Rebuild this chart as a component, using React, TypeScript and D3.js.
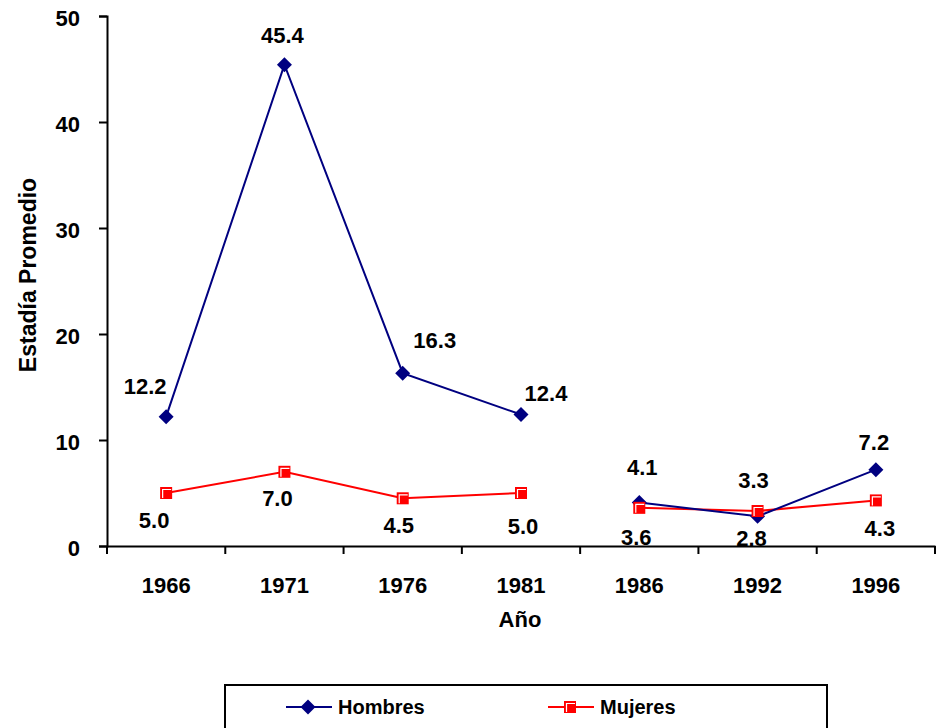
import { useRef, useEffect } from 'react'
import * as d3 from 'd3'

const YEARS = ['1966', '1971', '1976', '1981', '1986', '1992', '1996']
const HOMBRES = [12.2, 45.4, 16.3, 12.4, 4.1, 2.8, 7.2]
const MUJERES = [5.0, 7.0, 4.5, 5.0, 3.6, 3.3, 4.3]
// the series break between 1981 and 1986
const SEGMENTS = [0, 0, 0, 0, 1, 1, 1]
const Y_TICKS = [0, 10, 20, 30, 40, 50]

// label offsets (px) relative to each point
const HOMBRES_LABEL_OFFSET: [number, number][] = [
  [-21, -31], [-2, -30], [32, -33], [25, -21], [3, -35], [-6, 22], [-2, -28],
]
const MUJERES_LABEL_OFFSET: [number, number][] = [
  [-12, 27], [-7, 26], [-4, 27], [2, 33], [-3, 29], [-4, -31], [4, 28],
]

const W = 941
const H = 728
const FONT = '"Liberation Sans", Arial, sans-serif'
const NAVY = '#000080'
const RED = '#ff0000'

export default function App() {
  const ref = useRef<SVGSVGElement>(null)

  useEffect(() => {
    if (!ref.current) return
    const svg = d3.select(ref.current)
    svg.selectAll('*').remove()

    const x = d3.scaleBand<string>().domain(YEARS).range([107, 935])
    const y = d3.scaleLinear().domain([0, 50]).range([546, 16])
    const cx = (d: string) => (x(d) ?? 0) + x.bandwidth() / 2

    svg.append('rect').attr('width', W).attr('height', H).attr('fill', '#fff')

    // axes
    const yAxis = svg.append('g').attr('transform', 'translate(107,0)')
      .call(d3.axisLeft(y).tickValues(Y_TICKS).tickSize(8).tickPadding(19).tickFormat(d3.format('d')))
    const xAxis = svg.append('g').attr('transform', 'translate(0,546)')
      .call(d3.axisBottom(x).tickSize(0).tickPadding(31))
    for (const g of [yAxis, xAxis]) {
      g.select('.domain').attr('stroke', '#000').attr('stroke-width', 2)
      g.selectAll('.tick line').attr('stroke', '#000').attr('stroke-width', 2)
      g.selectAll('.tick text')
        .attr('fill', '#000')
        .style('font-family', FONT)
        .style('font-size', '22px')
        .style('font-weight', 'bold')
    }
    yAxis.selectAll('.tick text').attr('dy', '0.45em')
    // category boundary ticks
    const bounds = YEARS.map((d) => x(d) ?? 0).concat([(x(YEARS[YEARS.length - 1]) ?? 0) + x.bandwidth()])
    xAxis.selectAll('line.bound').data(bounds).enter().append('line')
      .attr('class', 'bound')
      .attr('x1', (d) => d).attr('x2', (d) => d)
      .attr('y1', 0).attr('y2', 8)
      .attr('stroke', '#000').attr('stroke-width', 2)

    // axis titles
    svg.append('text')
      .attr('transform', 'translate(36,275) rotate(-90)')
      .attr('text-anchor', 'middle')
      .style('font-family', FONT).style('font-size', '23px').style('font-weight', 'bold')
      .text('Estadía Promedio')
    svg.append('text')
      .attr('x', 520).attr('y', 627)
      .attr('text-anchor', 'middle')
      .style('font-family', FONT).style('font-size', '22px').style('font-weight', 'bold')
      .text('Año')

    const line = d3.line<[string, number]>().x((d) => cx(d[0])).y((d) => y(d[1]))

    const drawSeries = (values: number[], color: string) => {
      const groups = d3.groups(values.map((v, i) => [YEARS[i], v, SEGMENTS[i]] as [string, number, number]), (d) => d[2])
      groups.forEach(([, pts]) => {
        svg.append('path')
          .datum(pts.map((p) => [p[0], p[1]] as [string, number]))
          .attr('d', line)
          .attr('fill', 'none')
          .attr('stroke', color)
          .attr('stroke-width', 2)
      })
    }

    const diamond = (g: d3.Selection<SVGGElement, unknown, null, undefined>, px: number, py: number) => {
      g.append('path')
        .attr('d', `M${px},${py - 7.5}L${px + 7.5},${py}L${px},${py + 7.5}L${px - 7.5},${py}Z`)
        .attr('fill', NAVY)
    }
    const square = (g: d3.Selection<SVGGElement, unknown, null, undefined>, px: number, py: number) => {
      g.append('rect')
        .attr('x', px - 6).attr('y', py - 6).attr('width', 12).attr('height', 12)
        .attr('fill', RED)
      g.append('path')
        .attr('d', `M${px - 3.5},${py + 5}V${py - 3.5}H${px + 5}`)
        .attr('fill', 'none').attr('stroke', '#fff').attr('stroke-width', 1.2)
    }

    drawSeries(MUJERES, RED)
    drawSeries(HOMBRES, NAVY)

    const marks = svg.append('g')
    HOMBRES.forEach((v, i) => diamond(marks, cx(YEARS[i]), y(v)))
    MUJERES.forEach((v, i) => square(marks, cx(YEARS[i]), y(v)))

    const labels = svg.append('g')
      .style('font-family', FONT).style('font-size', '22px').style('font-weight', 'bold')
      .attr('text-anchor', 'middle')
    const addLabels = (values: number[], offs: [number, number][]) => {
      values.forEach((v, i) => {
        labels.append('text')
          .attr('x', cx(YEARS[i]) + offs[i][0])
          .attr('y', y(v) + offs[i][1])
          .attr('dy', '0.36em')
          .text(d3.format('.1f')(v))
      })
    }
    addLabels(HOMBRES, HOMBRES_LABEL_OFFSET)
    addLabels(MUJERES, MUJERES_LABEL_OFFSET)

    // legend
    const leg = svg.append('g')
    leg.append('rect')
      .attr('x', 225).attr('y', 685).attr('width', 602).attr('height', 60)
      .attr('fill', '#fff').attr('stroke', '#000').attr('stroke-width', 2)
    const items = [
      { name: 'Hombres', color: NAVY, x: 286, marker: diamond },
      { name: 'Mujeres', color: RED, x: 548, marker: square },
    ]
    items.forEach((it) => {
      leg.append('line')
        .attr('x1', it.x).attr('x2', it.x + 46)
        .attr('y1', 707).attr('y2', 707)
        .attr('stroke', it.color).attr('stroke-width', 2)
      it.marker(leg as any, it.x + 22, 707)
      leg.append('text')
        .attr('x', it.x + 52).attr('y', 714)
        .style('font-family', FONT).style('font-size', '20px').style('font-weight', 'bold')
        .text(it.name)
    })
  }, [])

  return (
    <svg
      ref={ref}
      width={W}
      height={H}
      style={{ position: 'absolute', left: 0, top: 0 }}
    />
  )
}
